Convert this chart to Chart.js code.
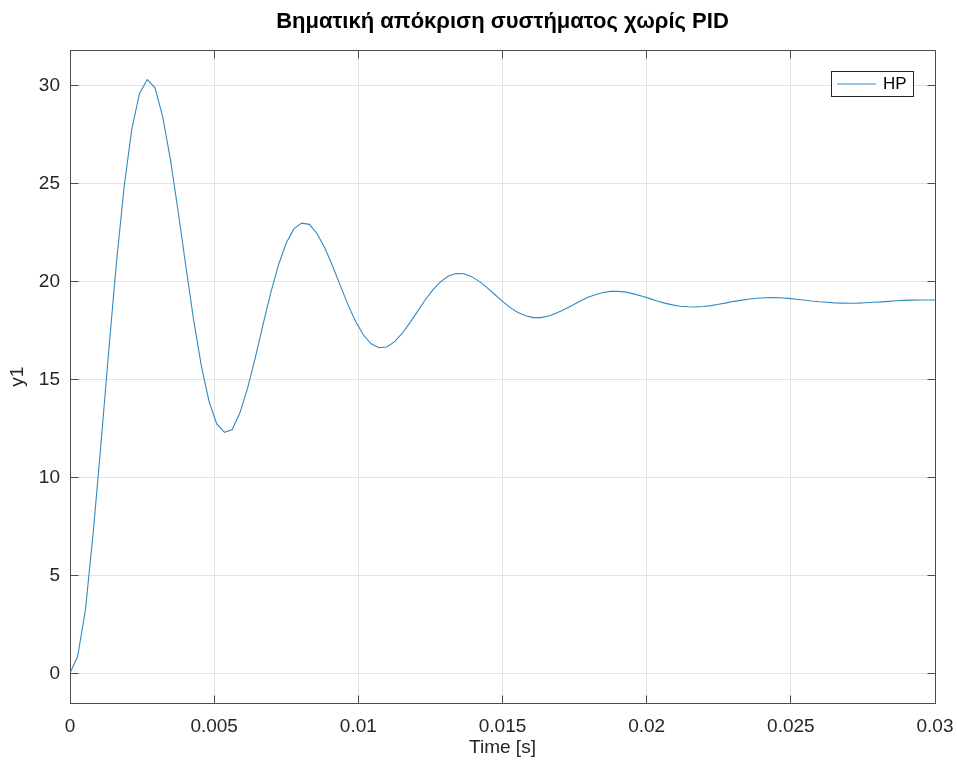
<!DOCTYPE html>
<html>
<head>
<meta charset="utf-8">
<title>Βηματική απόκριση συστήματος χωρίς PID</title>
<script src="https://cdn.jsdelivr.net/npm/chart.js@4.4.1/dist/chart.umd.min.js"></script>
<style>
  html, body { margin: 0; padding: 0; background: #fff; }
  #stepChart { display: block; }
</style>
</head>
<body>
<canvas id="stepChart" width="957" height="765"></canvas>
<script>
// step response samples (time in seconds, output y1)
const timeS = [
  0, 0.000268, 0.000536, 0.000804, 0.001071, 0.001339, 0.001607, 0.001875, 0.002143, 0.002411,
  0.002679, 0.002946, 0.003214, 0.003482, 0.00375, 0.004018, 0.004286, 0.004554, 0.004821, 0.005089,
  0.005357, 0.005625, 0.005893, 0.006161, 0.006429, 0.006696, 0.006964, 0.007232, 0.0075, 0.007768,
  0.008036, 0.008304, 0.008571, 0.008839, 0.009107, 0.009375, 0.009643, 0.009911, 0.010179, 0.010446,
  0.010714, 0.010982, 0.01125, 0.011518, 0.011786, 0.012054, 0.012321, 0.012589, 0.012857, 0.013125,
  0.013393, 0.013661, 0.013929, 0.014196, 0.014464, 0.014732, 0.015, 0.015268, 0.015536, 0.015804,
  0.016071, 0.016339, 0.016607, 0.016875, 0.017143, 0.017411, 0.017679, 0.017946, 0.018214, 0.018482,
  0.01875, 0.019018, 0.019286, 0.019554, 0.019821, 0.020089, 0.020357, 0.020625, 0.020893, 0.021161,
  0.021429, 0.021696, 0.021964, 0.022232, 0.0225, 0.022768, 0.023036, 0.023304, 0.023571, 0.023839,
  0.024107, 0.024375, 0.024643, 0.024911, 0.025179, 0.025446, 0.025714, 0.025982, 0.02625, 0.026518,
  0.026786, 0.027054, 0.027321, 0.027589, 0.027857, 0.028125, 0.028393, 0.028661, 0.028929, 0.029196,
  0.029464, 0.029732, 0.03
];

const responseHP = [
  0, 0.88, 3.25, 7.17, 11.66, 16.39, 20.91, 24.81, 27.78, 29.6,
  30.31, 29.9, 28.42, 26.24, 23.59, 20.78, 18.06, 15.71, 13.89, 12.73,
  12.3, 12.45, 13.3, 14.57, 16.13, 17.81, 19.44, 20.86, 21.97, 22.7,
  22.98, 22.92, 22.44, 21.71, 20.79, 19.79, 18.81, 17.95, 17.27, 16.82,
  16.62, 16.66, 16.92, 17.35, 17.89, 18.48, 19.07, 19.59, 20.0, 20.28,
  20.41, 20.4, 20.25, 20.01, 19.69, 19.34, 18.99, 18.67, 18.42, 18.25,
  18.16, 18.16, 18.24, 18.39, 18.57, 18.78, 18.99, 19.18, 19.33, 19.44,
  19.5, 19.5, 19.46, 19.37, 19.26, 19.14, 19.01, 18.9, 18.81, 18.74,
  18.71, 18.7, 18.73, 18.77, 18.84, 18.91, 18.99, 19.05, 19.11, 19.15,
  19.17, 19.18, 19.17, 19.14, 19.1, 19.06, 19.01, 18.97, 18.94, 18.91,
  18.9, 18.89, 18.9, 18.92, 18.94, 18.96, 18.99, 19.02, 19.04, 19.05,
  19.06, 19.06, 19.06
];

const seriesName = 'HP';
const chartTitle = 'Βηματική απόκριση συστήματος χωρίς PID';
const xTicks = [0, 0.005, 0.01, 0.015, 0.02, 0.025, 0.03];
const yTicks = [0, 5, 10, 15, 20, 25, 30];
const xRange = [0, 0.03];
const yRange = [-1.515, 31.8];

const FONT = '"Liberation Sans", Arial, Helvetica, sans-serif';
const lineColor = '#3389c0';
const gridColor = '#e2e2e2';
const axisColor = '#4d4d4d';
const textColor = '#262626';

// same pixel snapping chart.js uses for its own 1px lines
const snap = (px) => Math.round(px - 0.5) + 0.5;

// box on all four sides, inward ticks, and the legend inside the axes
const axesDecor = {
    id: 'axesDecor',
    afterDraw(chart) {
        const { ctx, chartArea: a, scales: { x, y } } = chart;
        const L = snap(a.left), R = snap(a.right), T = snap(a.top), B = snap(a.bottom);
        const tick = 8;

        ctx.save();
        ctx.strokeStyle = axisColor;
        ctx.lineWidth = 1;
        ctx.beginPath();
        ctx.moveTo(L, T); ctx.lineTo(R, T);
        ctx.moveTo(R, T); ctx.lineTo(R, B);
        xTicks.forEach(v => {
            const px = snap(x.getPixelForValue(v));
            ctx.moveTo(px, B); ctx.lineTo(px, B - tick);
            ctx.moveTo(px, T); ctx.lineTo(px, T + tick);
        });
        yTicks.forEach(v => {
            const py = snap(y.getPixelForValue(v));
            ctx.moveTo(L, py); ctx.lineTo(L + tick, py);
            ctx.moveTo(R, py); ctx.lineTo(R - tick, py);
        });
        ctx.stroke();

        // legend
        const lw = 82, lh = 25;
        const lx = Math.round(a.right - 104), ly = Math.round(a.top + 21);
        ctx.fillStyle = '#fff';
        ctx.fillRect(lx, ly, lw, lh);
        ctx.strokeStyle = textColor;
        ctx.strokeRect(lx + 0.5, ly + 0.5, lw, lh);
        ctx.strokeStyle = lineColor;
        ctx.lineWidth = 1.1;
        ctx.beginPath();
        ctx.moveTo(lx + 6, ly + lh / 2 + 0.5);
        ctx.lineTo(lx + 45, ly + lh / 2 + 0.5);
        ctx.stroke();
        ctx.fillStyle = '#000';
        ctx.font = `17px ${FONT}`;
        ctx.textBaseline = 'middle';
        ctx.textAlign = 'left';
        ctx.fillText(seriesName, lx + 52, ly + lh / 2 + 1);
        ctx.restore();
    }
};

window.addEventListener('DOMContentLoaded', () => {
    const ctx = document.getElementById('stepChart').getContext('2d');
    const points = timeS.map((t, i) => ({ x: t, y: responseHP[i] }));

    new Chart(ctx, {
        type: 'line',
        data: {
            datasets: [{
                label: seriesName,
                data: points,
                borderColor: lineColor,
                borderWidth: 1.1,
                pointRadius: 0,
                tension: 0,
                fill: false
            }]
        },
        options: {
            responsive: false,
            animation: false,
            layout: { padding: { left: 0, right: 22, top: 0, bottom: 0 } },
            plugins: {
                legend: { display: false },
                tooltip: { enabled: false },
                title: {
                    display: true,
                    text: chartTitle,
                    fullSize: false,
                    color: '#000',
                    font: { family: FONT, size: 22, weight: 'bold' },
                    padding: { top: 9, bottom: 15 }
                }
            },
            scales: {
                x: {
                    type: 'linear',
                    min: xRange[0],
                    max: xRange[1],
                    afterBuildTicks: s => { s.ticks = xTicks.map(v => ({ value: v })); },
                    // let the end labels hang past the axes instead of shrinking them
                    afterFit: s => { s.height = 62; s.paddingLeft = 0; s.paddingRight = 0; },
                    grid: { color: gridColor, drawTicks: false },
                    border: { color: axisColor },
                    ticks: {
                        color: textColor,
                        font: { family: FONT, size: 19 },
                        padding: 12,
                        maxRotation: 0,
                        callback: v => String(v)
                    },
                    title: {
                        display: true,
                        text: 'Time [s]',
                        color: textColor,
                        font: { family: FONT, size: 19 },
                        padding: { top: 0, bottom: 6 }
                    }
                },
                y: {
                    type: 'linear',
                    min: yRange[0],
                    max: yRange[1],
                    afterBuildTicks: s => { s.ticks = yTicks.map(v => ({ value: v })); },
                    afterFit: s => { s.width = 70; },
                    grid: { color: gridColor, drawTicks: false },
                    border: { color: axisColor },
                    ticks: {
                        color: textColor,
                        font: { family: FONT, size: 19 },
                        padding: 10,
                        callback: v => String(v)
                    },
                    title: {
                        display: true,
                        text: 'y1',
                        color: textColor,
                        font: { family: FONT, size: 19 },
                        padding: { top: 6, bottom: 0 }
                    }
                }
            }
        },
        plugins: [axesDecor]
    });
});
</script>
</body>
</html>
